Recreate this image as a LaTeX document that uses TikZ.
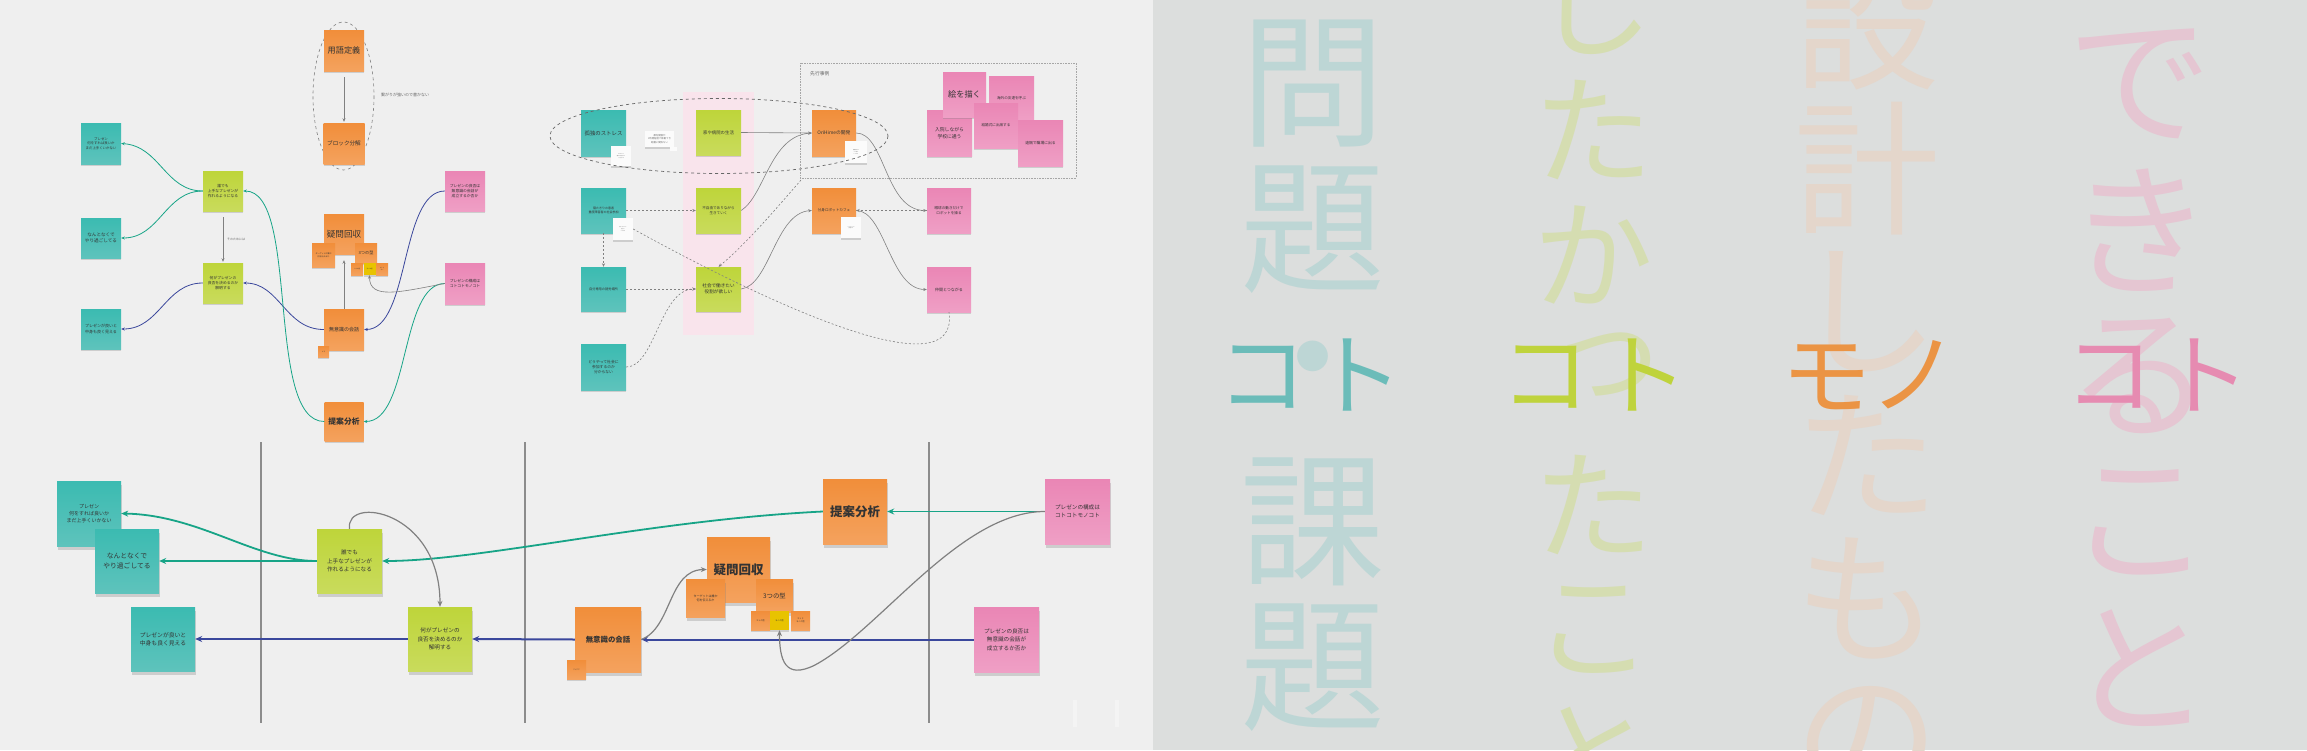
\documentclass[tikz,border=0pt]{standalone}
\usepackage{fontspec}
\setmainfont{Noto Sans CJK JP}
\usetikzlibrary{arrows.meta,shadows}
\definecolor{bgL}{HTML}{EFEFEF}
\definecolor{bgR}{HTML}{DCDEDD}
\definecolor{tealA}{HTML}{3BBBB1}
\definecolor{tealB}{HTML}{5EC3BC}
\definecolor{grnA}{HTML}{BED53A}
\definecolor{grnB}{HTML}{C9DB5C}
\definecolor{orgA}{HTML}{F18E3A}
\definecolor{orgB}{HTML}{F4A25E}
\definecolor{pnkA}{HTML}{EA86B5}
\definecolor{pnkB}{HTML}{EF9FC5}
\definecolor{ylw}{HTML}{E8C300}
\definecolor{arG}{HTML}{17A487}
\definecolor{arB}{HTML}{3A479C}
\definecolor{arK}{HTML}{808080}
\definecolor{sepc}{HTML}{8C8C8C}
\definecolor{bandP}{HTML}{F9E4EC}
\definecolor{fT}{HTML}{BDD6D5}
\definecolor{fG}{HTML}{D5DDB1}
\definecolor{fO}{HTML}{E4D6CB}
\definecolor{fP}{HTML}{E5C6D2}
\definecolor{bT}{HTML}{6BBCB9}
\definecolor{bG}{HTML}{BFD33C}
\definecolor{bO}{HTML}{EB9444}
\definecolor{bP}{HTML}{E68BB1}
\newcommand\bigfont{\fontsize{145pt}{145pt}\selectfont}
\newcommand\midfont{\fontsize{120pt}{120pt}\selectfont}
\newcommand\ovfont{\fontsize{90pt}{90pt}\selectfont}
\tikzset{
  note/.style={rectangle, inner sep=0pt, align=center, text=black!80},
  shS/.style={drop shadow={shadow xshift=0.4pt, shadow yshift=-1.8pt, opacity=0.3}},
  shL/.style={drop shadow={shadow xshift=0.8pt, shadow yshift=-3.5pt, opacity=0.3}},
  noteT/.style={note, top color=tealA, bottom color=tealB},
  noteG/.style={note, top color=grnA, bottom color=grnB},
  noteO/.style={note, top color=orgA, bottom color=orgB},
  noteP/.style={note, top color=pnkA, bottom color=pnkB},
  noteY/.style={note, fill=ylw},
  noteW/.style={note, fill=white!97!gray, text=black!55},
  sz/.style 2 args={minimum width=#1pt, minimum height=#2pt},
  f/.style 2 args={font=\fontsize{#1pt}{#2pt}\selectfont},
  gA/.style={draw=arG, line width=0.8pt, -{Stealth[length=3.5pt,width=3pt]}},
  bA/.style={draw=arB, line width=0.8pt, -{Stealth[length=3.5pt,width=3pt]}},
  kA/.style={draw=arK, line width=0.6pt, -{Stealth[length=3.5pt,width=3pt]}},
  dA/.style={draw=arK, line width=0.6pt, dash pattern=on 2pt off 2pt, -{Stealth[length=3.5pt,width=3pt]}},
  dN/.style={draw=arK, line width=0.6pt, dash pattern=on 2pt off 2pt},
  GA/.style={draw=arG, line width=1.8pt, -{Stealth[length=7pt,width=6pt]}},
  BA/.style={draw=arB, line width=2pt, -{Stealth[length=7pt,width=6pt]}},
  KA/.style={draw=arK, line width=1.2pt, -{Stealth[length=6pt,width=5pt]}},
  sepl/.style={draw=sepc, line width=1.3pt},
  lbl/.style={inner sep=0pt, anchor=west, text=black!60},
  vch/.style={inner sep=0pt},
}
\begin{document}
\begin{tikzpicture}[x=1pt,y=-1pt]
\clip (0,0) rectangle (2307,750);
\fill[bgL] (0,0) rectangle (1153,750);
\fill[bgR] (1153,0) rectangle (2307,750);

% ===== right panel =====
\foreach \c/\yy [count=\i] in {問/84,題/230,・/376,課/522,題/668}
  \node[vch, font=\bigfont, text=fT] (tc\i) at (1313,\yy) {\c};
\foreach \c/\yy [count=\i] in {設/26,計/169,し/312,た/455,も/598,の/741}
  \node[vch, font=\bigfont, text=fO] (oc\i) at (1867,\yy) {\c};
\foreach \c/\yy [count=\i] in {し/5,た/130,か/255,た/505,こ/630,と/755}
  \node[vch, font=\midfont, text=fG] (gc\i) at (1593,\yy) {\c};
\node[vch, font=\midfont, text=fG] (gcs) at (1608,365) {っ};
\foreach \c/\yy [count=\i] in {で/84,き/230,る/376,こ/522,と/668}
  \node[vch, font=\bigfont, text=fP] (pc\i) at (2140,\yy) {\c};
\node[vch, font=\ovfont, text=bT] (ov1) at (1262,377) {コ};
\node[vch, font=\ovfont, text=bT] (ov2) at (1358,375) {ト};
\node[vch, font=\ovfont, text=bG] (ov3) at (1545,377) {コ};
\node[vch, font=\ovfont, text=bG] (ov4) at (1643,375) {ト};
\node[vch, font=\ovfont, text=bO] (ov5) at (1826,377) {モ};
\node[vch, font=\ovfont, text=bO] (ov6) at (1914,375) {ノ};
\node[vch, font=\ovfont, text=bP] (ov7) at (2109,377) {コ};
\node[vch, font=\ovfont, text=bP] (ov8) at (2205,375) {ト};

% ===== top-left cluster =====
\draw[arK, line width=0.6pt, dash pattern=on 3pt off 3pt] (343.5,96) ellipse [x radius=30.5, y radius=74];
\node[noteT,shS,sz={40}{41},f={3.4}{4.6}] (A1) at (101,143.5) {プレゼン\\何をすれば良いか\\まだ上手くいかない};
\node[noteT,shS,sz={40}{40},f={4.6}{6}] (A2) at (101,238) {なんとなくで\\やり過ごしてる};
\node[noteT,shS,sz={40}{40},f={4}{5.4}] (A3) at (101,329) {プレゼンが良いと\\中身も良く見える};
\node[noteG,shS,sz={40}{40},f={3.8}{5.2}] (B1) at (223,191) {誰でも\\上手なプレゼンが\\作れるようになる};
\node[noteG,shS,sz={40}{40},f={3.8}{5.2}] (B2) at (223,283) {何がプレゼンの\\良否を決めるのか\\解明する};
\node[noteO,shS,sz={40}{41},f={8.2}{9}] (U1) at (344,50.5) {用語定義};
\node[noteO,shS,sz={41}{41},f={5.6}{6}] (U2) at (344,143.5) {ブロック分解};
\node[noteO,shS,sz={40}{40},f={8.6}{9}] (Q) at (344,234) {疑問回収};
\node[noteO,shS,sz={23}{24},f={2}{2.8}] (Qs) at (323.5,255) {ターゲットは誰か\\何を伝えるか};
\node[noteO,shS,sz={22}{20},f={4.2}{5}] (Q3) at (366,253) {3つの型};
\node[noteO,shS,sz={12}{12},f={1.5}{2}] (qt1) at (357,269) {コトの型};
\node[noteY,shS,sz={12}{12},f={1.5}{2}] (qt2) at (369.5,269) {モノの型};
\node[noteO,shS,sz={12}{12},f={1.5}{2}] (qt3) at (382,269) {コトと\\モノ};
\node[noteO,shS,sz={40}{41},f={5}{6}] (K) at (344,329.5) {無意識の会話};
\node[noteO,shS,sz={11}{11},f={1.6}{2}] (Ks) at (323.5,351.5) {メモ};
\node[noteO,shS,sz={39}{39},f={7.8}{9}] (T) at (344,421.5) {\bfseries 提案分析};
\node[noteP,shS,sz={40}{40},f={3.8}{5.2}] (P1) at (465,191) {プレゼンの良否は\\無意識の会話が\\成立するか否か};
\node[noteP,shS,sz={40}{41},f={3.8}{5.2}] (P2) at (465,283.5) {プレゼンの構成は\\コトコトモノコト};
\node[lbl,f={3}{4}] (lb1) at (227,239) {そのためには};
\node[lbl,f={4}{5}] (lb2) at (381,95) {繋がりが強いので書かない};

\draw[kA, shorten <=6pt, shorten >=1pt] (U1.south) -- (U2.north);
\draw[kA, shorten <=6pt, shorten >=1pt] (B1.south) -- (B2.north);
\draw[kA, shorten >=6pt] (K.north) -- (Q.south);
\draw[gA] (B1.west) .. controls (165,191) and (160,146) .. (A1.east);
\draw[gA] (B1.west) .. controls (165,191) and (160,238) .. (A2.east);
\draw[bA] (B2.west) .. controls (165,283) and (160,329) .. (A3.east);
\draw[bA] (P1.west) .. controls (400,191) and (410,329.5) .. (K.east);
\draw[bA] (K.west) .. controls (285,329.5) and (280,283) .. (B2.east);
\draw[gA] (T.west) .. controls (265,421.5) and (300,191) .. (B1.east);
\draw[gA] (P2.west) .. controls (400,283.5) and (410,421.5) .. (T.east);
\draw[kA] (P2.west) .. controls (400,292) and (369.5,300) .. (qt2.south);

% ===== middle cluster =====
\fill[bandP] (683,92) rectangle (754,335);
\draw[arK!70, line width=0.6pt, densely dotted] (800,63) rectangle (1076,178);
\node[lbl,f={4.8}{6}] (lb3) at (810,74) {先行事例};
\node[noteT,shS,sz={45}{46},f={5.4}{6}] (C1) at (603.5,133) {孤独のストレス};
\node[noteG,shS,sz={45}{45},f={4.4}{6}] (G1) at (718.5,132.5) {家や病院の生活};
\node[noteO,shS,sz={44}{46},f={4.8}{6}] (O1) at (834,133) {OriHimeの開発};
\node[noteT,shS,sz={45}{45},f={3}{4.2}] (C2) at (603.5,210.5) {寝たきりの患者\\重度障害者の社会参加};
\node[noteG,shS,sz={45}{45},f={3.6}{5}] (G2) at (718.5,210.5) {不自由でありながら\\生きていく};
\node[noteO,shS,sz={44}{45},f={3.6}{5}] (O2) at (834,210.5) {分身ロボットカフェ};
\node[noteT,shS,sz={45}{44},f={3.2}{4}] (C3) at (603.5,289) {自分専用の就労場所};
\node[noteG,shS,sz={45}{44},f={4.6}{6.4}] (G3) at (718.5,289) {社会で働きたい\\役割が欲しい};
\node[noteT,shS,sz={45}{46},f={3.8}{5.2}] (C4) at (603.5,367) {どうやって社会に\\参加するのか\\分からない};
\node[noteP,shS,sz={45}{44},f={3.6}{5}] (X1) at (1011.5,98) {海外の友達を呼ぶ};
\node[noteP,shS,sz={45}{46},f={4.8}{7}] (X2) at (949.5,133) {入院しながら\\学校に通う};
\node[noteP,shS,sz={43}{45},f={8.2}{9}] (X3) at (964.5,94.5) {絵を描く};
\node[noteP,shS,sz={44}{45},f={3.6}{5}] (X4) at (996,125.5) {結婚式に出席する};
\node[noteP,shS,sz={45}{46},f={3.8}{5}] (X5) at (1040.5,143) {遠隔で職場に出る};
\node[noteP,shS,sz={44}{45},f={3.6}{5}] (E) at (949,210.5) {眼球の動きだけで\\ロボットを操る};
\node[noteP,shS,sz={44}{45},f={4}{5}] (N) at (949,289.5) {仲間とつながる};
\coordinate (rc) at (801,180);

\draw[kA] (G1.east) -- (O1.west);
\draw[kA] (G2.east) .. controls (765,195) and (770,136) .. (O1.west);
\draw[kA] (G3.east) .. controls (770,285) and (775,213) .. (O2.west);
\draw[kA] (O1.east) .. controls (885,133) and (885,210.5) .. (E.west);
\draw[kA] (O2.east) .. controls (885,210.5) and (890,289.5) .. (N.west);
\draw[dA] (E.west) -- (O2.east);
\draw[dA] (C2.east) -- (G2.west);
\draw[dA] (C3.east) -- (G3.west);
\draw[dA] (C4.east) .. controls (655,367) and (660,289) .. (G3.west);
\draw[dA] (C2.south) -- (C3.north);
\draw[dA] (rc) .. controls (775,210) and (745,245) .. (G3.north);

\node[noteW,shS,sz={20}{20},f={1.2}{1.8}] (W1) at (621,156) {OriHimeで\\離れた場所から\\人と話せる};
\node[noteW,shS,sz={29}{16},f={2.4}{3.2}] (W2) at (659.5,139) {都内開催が\\1時間程度で移動でき\\距離に関係ない};
\node[noteW,sz={7}{4}] (W2b) at (673,149) {};
\node[noteW,shS,sz={20}{22},f={1.2}{1.8}] (W3) at (623,229) {寝たきりでも\\社会と\\つながる};
\node[noteW,shS,sz={22}{22},f={1.2}{1.8}] (W4) at (856,152) {遠隔操作で\\その場に\\いられる};
\node[noteW,shS,sz={20}{21},f={1.2}{1.8}] (W5) at (851,227.5) {パイロットが\\接客する};
\draw[dN] (W3.east) .. controls (780,310) and (960,390) .. (N.south);
\draw[arK!80!black, line width=0.7pt, dash pattern=on 3pt off 3pt] (719,136) ellipse [x radius=169, y radius=37.5];

% ===== bottom =====
\coordinate (s1a) at (261,442); \coordinate (s1b) at (261,723);
\coordinate (s2a) at (525,442); \coordinate (s2b) at (525,723);
\coordinate (s3a) at (929,442); \coordinate (s3b) at (929,723);
\draw[sepl] (s1a) -- (s1b);
\draw[sepl] (s2a) -- (s2b);
\draw[sepl] (s3a) -- (s3b);
\fill[white, opacity=0.35] (1073,700) rectangle (1077,727);
\fill[white, opacity=0.35] (1115,700) rectangle (1119,727);

\node[noteT,shL,sz={64}{65},f={5}{7.4}] (L1) at (89,513.5) {プレゼン\\何をすれば良いか\\まだ上手くいかない};
\node[noteT,shL,sz={64}{64},f={6.8}{9.5}] (L2) at (127,561) {なんとなくで\\やり過ごしてる};
\node[noteT,shL,sz={64}{64},f={5.8}{8.4}] (L3) at (163,639) {プレゼンが良いと\\中身も良く見える};
\node[noteG,shL,sz={65}{64},f={5.6}{8.4}] (M1) at (349.5,561) {誰でも\\上手なプレゼンが\\作れるようになる};
\node[noteG,shL,sz={64}{64},f={5.6}{8.4}] (M2) at (440,639) {何がプレゼンの\\良否を決めるのか\\解明する};
\node[noteO,shL,sz={66}{65},f={7.4}{9}] (K2) at (608,639.5) {\bfseries 無意識の会話};
\node[noteO,shS,sz={19}{19},f={1.6}{2}] (K2s) at (576.5,669.5) {アイデア};
\node[noteO,shL,sz={64}{65},f={12.5}{14}] (T2) at (855,511.5) {\bfseries 提案分析};
\node[noteO,shL,sz={63}{65},f={12.5}{14}] (Q2) at (738.5,569.5) {\bfseries 疑問回収};
\node[noteO,shL,sz={39}{38},f={3}{4.2}] (Q2s) at (705.5,598) {ターゲットは誰か\\何を伝えるか};
\node[noteO,shL,sz={37}{33},f={6.4}{7}] (Q2b) at (774.5,595.5) {3つの型};
\node[noteO,shS,sz={19}{19},f={2.1}{2.8}] (qb1) at (760.5,620.5) {コトの型};
\node[noteY,shS,sz={19}{19},f={2.1}{2.8}] (qb2) at (779.5,620.5) {モノの型};
\node[noteO,shS,sz={19}{19},f={2.1}{2.8}] (qb3) at (800.5,620.5) {コトと\\モノの型};
\node[noteP,shL,sz={65}{65},f={5.6}{8.4}] (R1) at (1077.5,511.5) {プレゼンの構成は\\コトコトモノコト};
\node[noteP,shL,sz={65}{65},f={5.6}{8.4}] (R2) at (1006.5,639.5) {プレゼンの良否は\\無意識の会話が\\成立するか否か};

\draw[GA] (R1.west) -- (T2.east);
\draw[GA] (T2.west) .. controls (650,520) and (480,561) .. (M1.east);
\draw[GA] (M1.west) -- (L2.east);
\draw[GA] (M1.west) .. controls (255,561) and (200,515) .. (L1.east);
\draw[KA] (M1.north) .. controls (345,495) and (440,510) .. (M2.north);
\draw[BA] (R2.west) -- (K2.east);
\draw[BA] (K2.west) -- (M2.east);
\draw[BA] (M2.west) -- (L3.east);
\draw[KA] (K2.east) .. controls (672,628) and (668,570) .. (Q2.west);
\draw[KA] (R1.west) .. controls (960,511.5) and (880,630) .. (815,665) .. controls (785,680) and (779.5,660) .. (qb2.south);
\end{tikzpicture}
\end{document}
